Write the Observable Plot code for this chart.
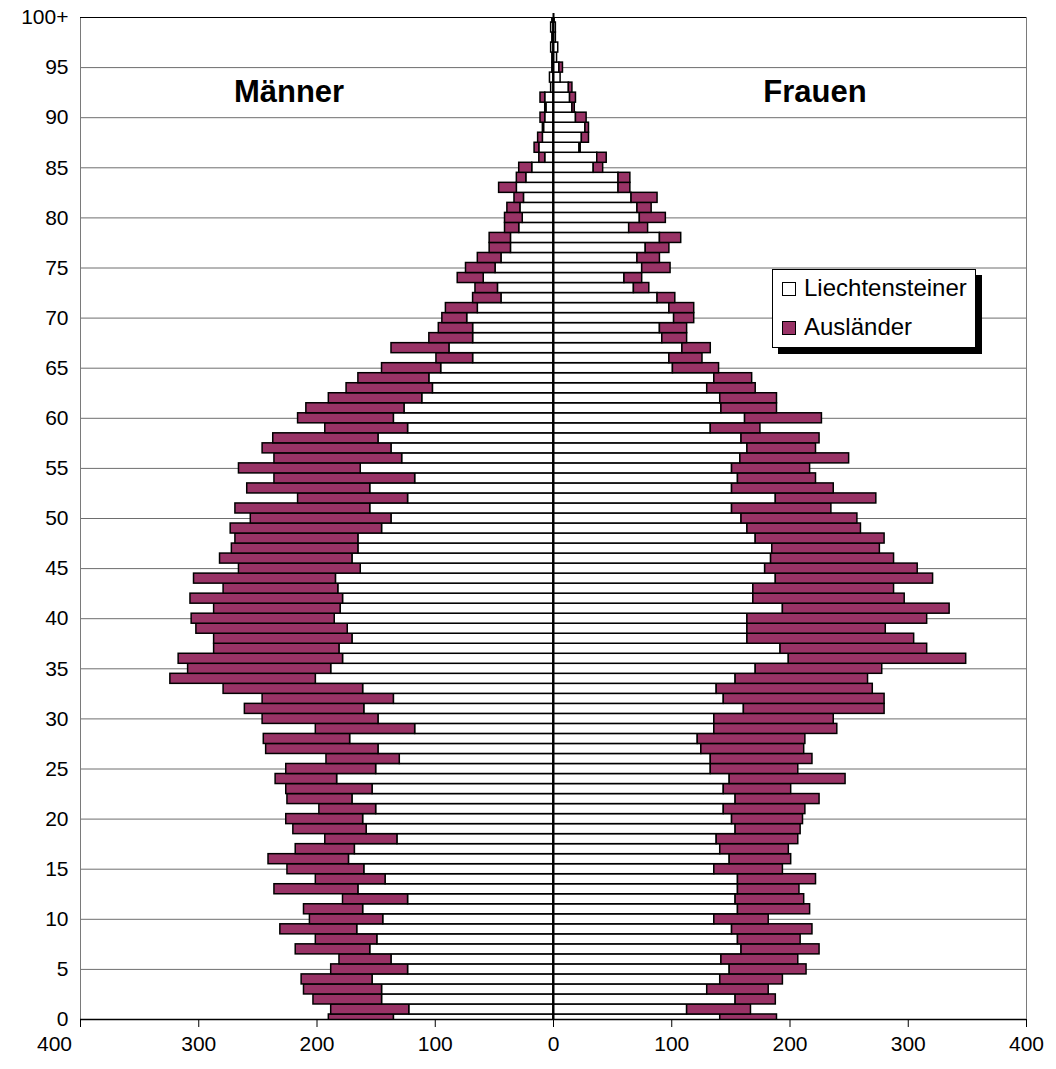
<!DOCTYPE html>
<html>
<head>
<meta charset="utf-8">
<script src="https://cdn.jsdelivr.net/npm/d3@7"></script>
<script src="https://cdn.jsdelivr.net/npm/@observablehq/plot@0.6"></script>
<style>
  html, body { margin: 0; padding: 0; background: white; }
  #wrap { position: relative; width: 1056px; height: 1069px; font-family: "Liberation Sans", Arial, sans-serif; }
  .side { position: absolute; width: 220px; text-align: center; font-weight: bold; font-size: 31px; line-height: 31px; color: black; }
  #legend { position: absolute; left: 772px; top: 269px; width: 202px; height: 77px; background: white; border: 1px solid black; box-shadow: 6px 6px 0 black; }
  .li { position: absolute; left: 9px; font-size: 24px; line-height: 24px; white-space: nowrap; }
  .sw { display: inline-block; width: 12px; height: 12px; border: 1.5px solid black; margin-right: 8px; vertical-align: baseline; }
</style>
</head>
<body>
<div id="wrap"></div>
<script>
// Ages 0 .. 100 (100 = "100+")
const ages = d3.range(0, 101);
const ageTicks = d3.range(0, 101, 5);
const xTicks = [-400, -300, -200, -100, 0, 100, 200, 300, 400];
const seriesNames = ["Liechtensteiner", "Ausländer"];
const sideNames = ["Männer", "Frauen"];

// Männer: Liechtensteiner
const menLiecht = [135,122,145,145,153,123,137,155,149,166,144,161,123,165,142,160,173,168,132,158,
  161,150,170,153,183,150,130,148,172,117,148,160,135,161,201,188,178,181,170,174,
  185,180,178,182,184,163,170,165,165,145,137,155,123,155,117,163,128,137,148,123,
  135,126,111,102,105,95,68,88,68,68,73,64,44,47,59,49,44,36,36,29,
  26,28,25,31,23,18,7,12,9,8,7,6,7,2,3,1,1,2,1,2,1];
// Männer: Ausländer
const menAusl = [55,66,58,66,60,65,44,63,52,65,62,50,55,71,59,65,68,50,61,62,
  65,48,55,73,52,76,62,95,73,84,98,101,111,118,123,121,139,106,117,128,
  121,107,129,97,120,103,112,107,104,128,119,114,93,104,119,103,108,109,89,70,
  81,83,79,73,60,50,31,49,37,29,21,27,24,19,22,25,20,18,18,12,
  15,11,8,15,8,11,5,4,4,1,4,1,4,0,0,0,0,0,0,0,0];
// Frauen: Liechtensteiner
const womenLiecht = [141,113,154,130,141,149,142,159,156,151,136,156,154,156,156,136,149,141,138,154,
  151,144,154,144,149,133,133,125,122,136,136,161,144,138,154,171,199,192,164,164,
  164,194,169,169,188,179,184,185,171,164,159,151,188,151,156,151,158,164,159,133,
  162,142,141,130,136,101,98,109,92,90,102,98,88,68,60,75,71,78,90,64,
  73,71,66,55,55,34,37,22,24,27,19,16,14,13,6,5,3,4,2,2,1];
// Frauen: Ausländer
const womenAusl = [48,54,34,52,53,65,65,66,53,68,46,61,58,52,66,58,52,58,69,55,
  60,69,71,57,98,74,86,87,91,104,101,119,136,132,112,107,150,124,141,117,
  152,141,128,119,133,129,104,91,109,96,98,84,85,86,66,66,92,58,66,42,
  65,47,48,41,32,39,28,24,21,23,17,21,15,13,15,24,19,20,18,16,
  22,12,22,10,10,8,8,1,6,3,9,2,5,3,0,3,0,0,0,0,0];

const colors = {"Liechtensteiner": "#ffffff", "Ausländer": "#993366"};

// Build stacked segments (men negative, women positive)
const rows = [];
ages.forEach((a, i) => {
  rows.push({age: a, series: "Liechtensteiner", x1: 0, x2: -menLiecht[i]});
  rows.push({age: a, series: "Ausländer", x1: -menLiecht[i], x2: -(menLiecht[i] + menAusl[i])});
  rows.push({age: a, series: "Liechtensteiner", x1: 0, x2: womenLiecht[i]});
  rows.push({age: a, series: "Ausländer", x1: womenLiecht[i], x2: womenLiecht[i] + womenAusl[i]});
});

const fmtX = d => String(Math.abs(d));

const chart = Plot.plot({
  width: 1056,
  height: 1069,
  marginLeft: 80,
  marginRight: 30,
  marginTop: 17,
  marginBottom: 50,
  style: {fontFamily: "Liberation Sans, Arial, sans-serif", fontSize: "21px", color: "black", background: "white"},
  x: {domain: [-400, 400], ticks: xTicks, tickFormat: fmtX, label: null},
  y: {domain: [0, 100], ticks: ageTicks, tickFormat: d => d === 100 ? "100+" : String(d), label: null},
  marks: [
    Plot.gridY(ageTicks, {stroke: "#6e6e6e", strokeOpacity: 1, strokeWidth: 1}),
    Plot.ruleX([-400, 400], {stroke: "#7a7a7a", strokeWidth: 1}),
    Plot.rectX(rows.filter(d => d.x1 !== d.x2), {
      x1: "x1", x2: "x2",
      y1: d => d.age - 0.5, y2: d => d.age + 0.5,
      fill: d => colors[d.series],
      stroke: "black", strokeWidth: 1.5,
      clip: true
    }),
    Plot.ruleY([100], {stroke: "black", strokeWidth: 1.2}),
    Plot.ruleX([0], {y1: 0, y2: 100.4, stroke: "black", strokeWidth: 2}),
    Plot.ruleY([0], {stroke: "black", strokeWidth: 1.5}),
    // tick marks for all x ticks
    Plot.axisX({ticks: xTicks, tickFormat: () => "", tickSize: 8, label: null}),
    // labels: leftmost one sits a little left of its tick, as in the original
    Plot.axisX({ticks: xTicks.slice(0, 1), tickFormat: fmtX, tickSize: 0, tickPadding: 17, dx: -26, label: null}),
    Plot.axisX({ticks: xTicks.slice(1), tickFormat: fmtX, tickSize: 0, tickPadding: 17, label: null}),
    Plot.axisY({ticks: ageTicks, tickFormat: d => d === 100 ? "100+" : String(d), tickSize: 0, tickPadding: 12, label: null})
  ]
});

const wrap = document.getElementById("wrap");
wrap.appendChild(chart);

// Side labels
[["Männer", 289], ["Frauen", 815]].forEach(([t, cx]) => {
  const d = document.createElement("div");
  d.className = "side";
  d.textContent = t;
  d.style.left = (cx - 110) + "px";
  d.style.top = "76px";
  wrap.appendChild(d);
});

// Legend
const lg = document.createElement("div");
lg.id = "legend";
seriesNames.forEach((name, i) => {
  const it = document.createElement("div");
  it.className = "li";
  it.style.top = (i === 0 ? 6 : 45) + "px";
  const sw = document.createElement("span");
  sw.className = "sw";
  sw.style.background = colors[name];
  it.appendChild(sw);
  it.appendChild(document.createTextNode(name));
  lg.appendChild(it);
});
wrap.appendChild(lg);
</script>
</body>
</html>
